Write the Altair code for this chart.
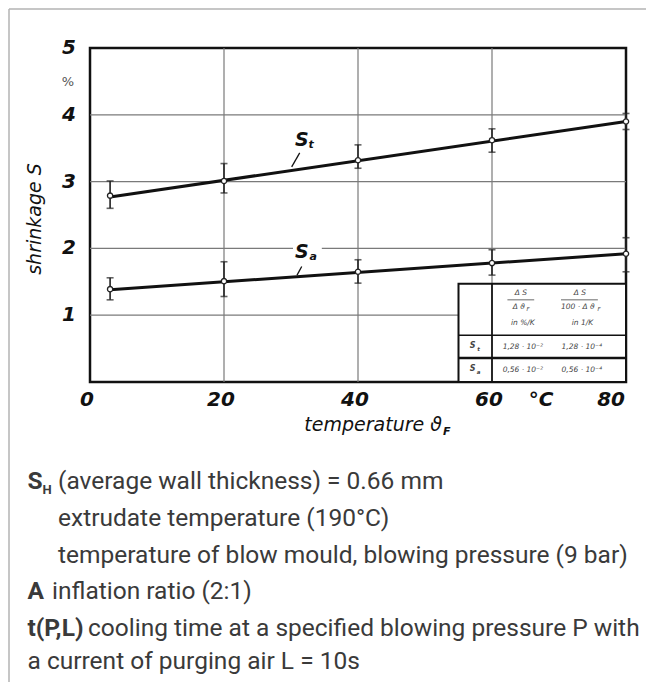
import altair as alt
import pandas as pd

# ---- data ----
temps = [3, 20, 40, 60, 80]
st_vals = [2.79, 3.01, 3.32, 3.62, 3.90]
st_lo = [2.60, 2.83, 3.20, 3.44, 3.78]
st_hi = [3.01, 3.27, 3.55, 3.79, 4.02]
sa_vals = [1.39, 1.51, 1.65, 1.78, 1.92]
sa_lo = [1.23, 1.28, 1.48, 1.60, 1.65]
sa_hi = [1.56, 1.80, 1.83, 1.98, 2.16]
fit_x = [3, 80]
st_fit = [2.77, 3.90]
sa_fit = [1.38, 1.92]
x_ticks = [0, 20, 40, 60, 80]
y_ticks = [1, 2, 3, 4, 5]
grid_x = [20, 40, 60]
grid_y = [1, 2, 3, 4]
table_rows = ["t", "a"]
table_col2 = ["1,28 · 10⁻²", "0,56 · 10⁻²"]
table_col3 = ["1,28 · 10⁻⁴", "0,56 · 10⁻⁴"]

W, H = 536, 334
XS = alt.Scale(domain=[0, 80], nice=False, zero=False)
YS = alt.Scale(domain=[0, 5], nice=False, zero=False)
CF = "DejaVu Sans"
TF = "Roboto"
TC = "#3a3a3a"
CAP = 24.5


def one(s):
    return pd.DataFrame({"t": [s]})


def ptxt(s, x, y, size, weight="normal", style="normal", font=TF, color=TC,
         align="left", baseline="alphabetic", angle=0):
    return alt.Chart(one(s)).mark_text(
        align=align, baseline=baseline, font=font, fontSize=size,
        fontWeight=weight, fontStyle=style, color=color, angle=angle
    ).encode(text="t:N", x=alt.value(x), y=alt.value(y))


def dtxt(s, x, y, size, weight="normal", style="normal", font=CF, color="#111",
         align="center", baseline="middle"):
    return alt.Chart(pd.DataFrame({"t": [s], "x": [x], "y": [y]})).mark_text(
        align=align, baseline=baseline, font=font, fontSize=size,
        fontWeight=weight, fontStyle=style, color=color
    ).encode(text="t:N",
             x=alt.X("x:Q", scale=XS, axis=None),
             y=alt.Y("y:Q", scale=YS, axis=None))


def drule(x, y, x2, y2, color="#111", width=1.5):
    return alt.Chart(pd.DataFrame({"x": [x], "y": [y], "x2": [x2], "y2": [y2]})).mark_rule(
        color=color, strokeWidth=width
    ).encode(x=alt.X("x:Q", scale=XS, axis=None), y=alt.Y("y:Q", scale=YS, axis=None),
             x2="x2:Q", y2="y2:Q")


# ---- grid ----
vgrid = alt.Chart(pd.DataFrame({"x": grid_x})).mark_rule(color="#7a7a7a", strokeWidth=1.2).encode(
    x=alt.X("x:Q", scale=XS, axis=None), y=alt.value(0), y2=alt.value(H))
hgrid = alt.Chart(pd.DataFrame({"y": grid_y})).mark_rule(color="#7a7a7a", strokeWidth=1.2).encode(
    y=alt.Y("y:Q", scale=YS, axis=None), x=alt.value(0), x2=alt.value(W))

# tick labels drawn through the scales
xlab_df = pd.DataFrame({"v": x_ticks, "t": [str(v) for v in x_ticks]})
ylab_df = pd.DataFrame({"v": y_ticks, "t": [str(v) for v in y_ticks]})
lab_style = dict(font=CF, fontSize=20, fontWeight="bold", fontStyle="italic", color="#111")
xlabels = alt.Chart(xlab_df.iloc[:-1]).mark_text(align="center", baseline="middle", dx=-3,
                                                 **lab_style).encode(
    x=alt.X("v:Q", scale=XS, axis=None), y=alt.value(H + 18), text="t:N")
xlabel_last = alt.Chart(xlab_df.iloc[-1:]).mark_text(align="right", baseline="middle", dx=-1,
                                                     **lab_style).encode(
    x=alt.X("v:Q", scale=XS, axis=None), y=alt.value(H + 18), text="t:N")
ylabels = alt.Chart(ylab_df).mark_text(align="right", baseline="middle", **lab_style).encode(
    y=alt.Y("v:Q", scale=YS, axis=None), x=alt.value(-14), text="t:N")

# white gap behind S_a label on the grid line
gap = alt.Chart(pd.DataFrame({"x": [30.3], "x2": [34.6], "y": [1.93], "y2": [2.07]})).mark_rect(
    color="white").encode(x=alt.X("x:Q", scale=XS, axis=None), x2="x2:Q",
                          y=alt.Y("y:Q", scale=YS, axis=None), y2="y2:Q")

# ---- table ----
tbox = alt.Chart(pd.DataFrame({"x": [55], "x2": [80], "y": [0], "y2": [1.47]})).mark_rect(
    fill="white", stroke="#111", strokeWidth=2).encode(
    x=alt.X("x:Q", scale=XS, axis=None), x2="x2:Q",
    y=alt.Y("y:Q", scale=YS, axis=None), y2="y2:Q")

tlines = [
    drule(60, 0, 60, 1.47, width=1.8),
    drule(55, 0.70, 80, 0.70, width=1.5),
    drule(55, 0.36, 80, 0.36, width=2.4),
    drule(62.3, 1.23, 66.3, 1.23, color="#444", width=0.8),
    drule(70.3, 1.23, 75.8, 1.23, color="#444", width=0.8),
]
TSZ = 7.5
TCOL = "#444"
ttexts = [
    dtxt("Δ S", 64.3, 1.33, TSZ, style="italic", color=TCOL),
    dtxt("Δ ϑ", 64.0, 1.12, TSZ, style="italic", color=TCOL),
    dtxt("F", 65.4, 1.09, 5.5, style="italic", color=TCOL),
    dtxt("Δ S", 73.1, 1.33, TSZ, style="italic", color=TCOL),
    dtxt("100 · Δ ϑ", 72.8, 1.12, TSZ, style="italic", color=TCOL),
    dtxt("F", 76.0, 1.09, 5.5, style="italic", color=TCOL),
    dtxt("in %/K", 64.6, 0.88, TSZ, style="italic", color=TCOL),
    dtxt("in 1/K", 73.5, 0.88, TSZ, style="italic", color=TCOL),
    dtxt("S", 57.1, 0.54, TSZ + 0.5, style="italic", weight="bold", color=TCOL),
    dtxt(table_rows[0], 58.0, 0.50, 5.5, style="italic", weight="bold", color=TCOL),
    dtxt("S", 57.1, 0.19, TSZ + 0.5, style="italic", weight="bold", color=TCOL),
    dtxt(table_rows[1], 58.0, 0.15, 5.5, style="italic", weight="bold", color=TCOL),
    dtxt(table_col2[0], 64.6, 0.53, TSZ, style="italic", color=TCOL),
    dtxt(table_col3[0], 73.4, 0.53, TSZ, style="italic", color=TCOL),
    dtxt(table_col2[1], 64.6, 0.18, TSZ, style="italic", color=TCOL),
    dtxt(table_col3[1], 73.4, 0.18, TSZ, style="italic", color=TCOL),
]

# ---- series ----
pts = pd.DataFrame({"T": temps * 2, "S": st_vals + sa_vals, "lo": st_lo + sa_lo,
                    "hi": st_hi + sa_hi, "series": ["St"] * 5 + ["Sa"] * 5})
fit = pd.DataFrame({"T": fit_x * 2, "S": st_fit + sa_fit, "series": ["St"] * 2 + ["Sa"] * 2})

lines = alt.Chart(fit).mark_line(color="#111", strokeWidth=3).encode(
    x=alt.X("T:Q", scale=XS, axis=None), y=alt.Y("S:Q", scale=YS, axis=None), detail="series:N")

ebars = alt.Chart(pts).mark_rule(color="#222", strokeWidth=1.6).encode(
    x=alt.X("T:Q", scale=XS, axis=None), y=alt.Y("lo:Q", scale=YS, axis=None), y2="hi:Q")
cap_lo = alt.Chart(pts).mark_tick(orient="horizontal", color="#222", size=7, thickness=1.6).encode(
    x=alt.X("T:Q", scale=XS, axis=None), y=alt.Y("lo:Q", scale=YS, axis=None))
cap_hi = alt.Chart(pts).mark_tick(orient="horizontal", color="#222", size=7, thickness=1.6).encode(
    x=alt.X("T:Q", scale=XS, axis=None), y=alt.Y("hi:Q", scale=YS, axis=None))
points = alt.Chart(pts).mark_point(shape="circle", filled=True, fill="white", stroke="#222",
                                   strokeWidth=1.3, size=28, opacity=1).encode(
    x=alt.X("T:Q", scale=XS, axis=None), y=alt.Y("S:Q", scale=YS, axis=None))

# series labels with leader lines
labels = [
    dtxt("S", 31.6, 3.63, 19, weight="bold", style="italic"),
    dtxt("t", 33.0, 3.55, 11, weight="bold", style="italic"),
    drule(31.3, 3.43, 30.1, 3.22, width=1.3),
    dtxt("S", 31.6, 1.95, 19, weight="bold", style="italic"),
    dtxt("a", 33.3, 1.87, 11, weight="bold", style="italic"),
    drule(31.6, 1.73, 30.9, 1.60, width=1.3),
]

# ---- texts outside the plot (pixel positions relative to plot origin) ----
outside = [
    ptxt("%", -22, 34, 13, font=CF, color="#555", align="center", baseline="middle"),
    ptxt("°C", 451, H + 18, 20, weight="bold", style="italic", font=CF, color="#111",
         align="center", baseline="middle"),
    ptxt("temperature ϑ", 352, 377, 19, style="italic", font=CF, color="#111",
         align="right", baseline="middle"),
    ptxt("F", 353, 384, 11, weight="bold", style="italic", font=CF, color="#111",
         baseline="middle"),
    ptxt("shrinkage S", -55, 171, 19, style="italic", font=CF, color="#111",
         align="center", baseline="middle", angle=270),
    # caption
    ptxt("S", -62.5, 441, CAP, weight="bold"),
    ptxt("H", -47.5, 446, 13, weight="bold"),
    ptxt("(average wall thickness) = 0.66 mm", -32, 441, CAP),
    ptxt("extrudate temperature (190°C)", -32, 478, CAP),
    ptxt("temperature of blow mould, blowing pressure (9 bar)", -32, 515, CAP),
    ptxt("A", -62.5, 551, CAP, weight="bold"),
    ptxt("inflation ratio (2:1)", -38, 551, CAP),
    ptxt("t(P,L)", -62.5, 588, CAP, weight="bold"),
    ptxt("cooling time at a specified blowing pressure P with", -2, 588, CAP),
    ptxt("a current of purging air L = 10s", -62.5, 621, CAP),
]

# outer card frame (left and top edges)
frame_left = alt.Chart(one("")).mark_rule(color="#b3b3b3", strokeWidth=1.5).encode(
    x=alt.value(-81), y=alt.value(-39), y2=alt.value(640))
frame_top = alt.Chart(one("")).mark_rule(color="#b3b3b3", strokeWidth=1.5).encode(
    x=alt.value(-81), x2=alt.value(560), y=alt.value(-39))

chart = alt.layer(
    vgrid, hgrid, gap, tbox, *tlines, *ttexts, lines, ebars, cap_lo, cap_hi, points,
    *labels, xlabels, xlabel_last, ylabels, *outside, frame_left, frame_top
).properties(
    width=W, height=H,
    padding={"left": 82, "top": 40, "right": 20, "bottom": 300},
    autosize=alt.AutoSizeParams(type="none"),
    background="white",
).configure_view(stroke="#111", strokeWidth=2.5)

chart.save("out.html", embed_options={"renderer": "svg", "actions": False})
